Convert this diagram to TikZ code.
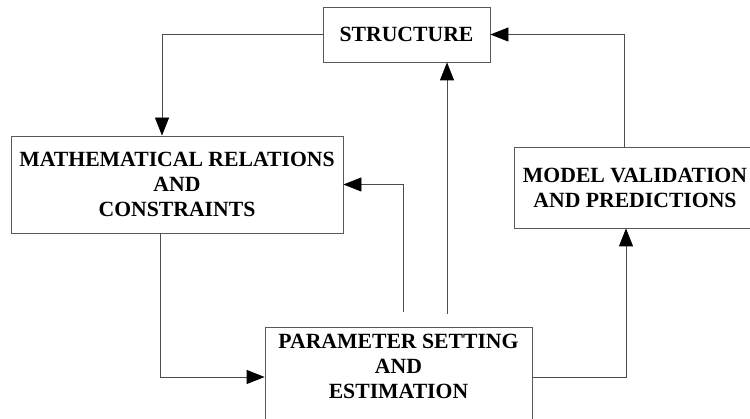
\documentclass[tikz,border=0pt]{standalone}
\usepackage{fontspec}
\setmainfont{Liberation Serif}
\usetikzlibrary{arrows.meta}

\tikzset{every picture/.style={line width=0.8pt}}
\tikzset{
  blockbox/.style={draw=black!65, fill=white, align=center, inner sep=0.75pt,
    font=\fontsize{21.7}{25}\selectfont\bfseries},
  flowline/.style={draw=black!70, -{Triangle[length=18pt,width=14pt,color=black]}}
}

\begin{document}
\begin{tikzpicture}[x=1pt,y=1pt,yscale=-1,xscale=1]
\useasboundingbox (0,0) rectangle (750,419);
\clip (0,0) rectangle (750,419);

%Shape: Rectangle
\node [blockbox, minimum width=167, minimum height=55] (struct) at (406.5,34.5) {STRUCTURE};
%Shape: Rectangle
\node [blockbox, minimum width=332, minimum height=97] (math) at (177,184.5) {MATHEMATICAL RELATIONS\\AND\\CONSTRAINTS};
%Shape: Rectangle
\node [blockbox, minimum width=267, minimum height=100] (param) at (398.5,377) {PARAMETER SETTING\\AND\\ESTIMATION\\[-4pt]};
%Shape: Rectangle
\node [blockbox, minimum width=242, minimum height=81] (model) at (635,187.5) {MODEL VALIDATION\\AND PREDICTIONS};

% free ends above the parameter box
\coordinate (pleft) at (403,312);
\coordinate (pmid) at (447,314);

%Straight Lines
\draw [flowline] (struct.west) -| ([xshift=-15pt]math.north);
\draw [flowline] ([xshift=-17pt]math.south) |- (param.west);
\draw [flowline] (pleft) |- (math.east);
\draw [flowline] (pmid) -- (pmid |- struct.south);
\draw [flowline] (param.east) -| ([xshift=-9pt]model.south);
\draw [flowline] ([xshift=-11pt]model.north) |- (struct.east);
\end{tikzpicture}
\end{document}
